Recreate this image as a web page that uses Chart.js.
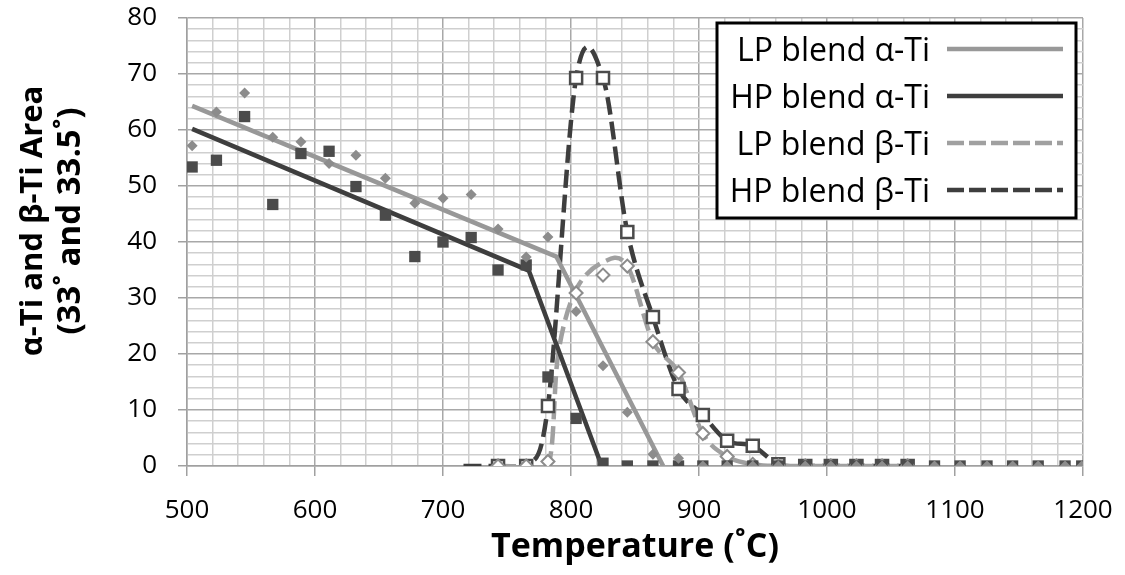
<!DOCTYPE html>
<html><head><meta charset="utf-8">
<script src="https://cdn.jsdelivr.net/npm/chart.js@4.4.1/dist/chart.umd.min.js"></script>
<style>html,body{margin:0;padding:0;background:#fff}</style>
</head><body>
<canvas id="c" width="1125" height="575"></canvas>
<script>
// ---- data ----
const temps = [504, 523, 545, 567, 589, 611, 632, 655, 678, 700, 722, 743, 765, 782, 804, 825, 844, 864, 884, 903, 922, 942, 962, 983, 1003, 1023, 1043, 1063, 1084, 1104, 1125, 1145, 1165, 1186, 1199];
const lpAlpha = [57.2, 63.2, 66.6, 58.7, 57.9, 54.0, 55.5, 51.4, 46.9, 47.8, 48.5, 42.3, 37.3, 40.9, 27.6, 17.9, 9.6, 2.1, 1.4, 0, 0, 0, 0, 0, 0, 0, 0, 0, 0, 0, 0, 0, 0, 0, 0];
const hpAlpha = [53.4, 54.6, 62.4, 46.7, 55.8, 56.2, 49.9, 44.8, 37.4, 40.0, 40.8, 35.0, 35.9, 15.9, 8.5, 0.5, 0, 0, 0, 0, 0, 0, 0, 0, 0, 0, 0, 0, 0, 0, 0, 0, 0, 0, 0];
const betaTemps = [743, 765, 782, 804, 825, 844, 864, 884, 903, 922, 942, 962, 983, 1003, 1023, 1043, 1063];
const lpBeta = [0, 0, 0.8, 30.9, 34.1, 35.7, 22.2, 16.7, 5.8, 1.7, 0.3, 0, 0, 0, 0, 0, 0];
const hpBeta = [0, 0, 10.7, 69.3, 69.3, 41.8, 26.6, 13.75, 9.1, 4.5, 3.6, 0.3, 0, 0, 0, 0, 0];
// smoothed beta curves
const lpBetaCurveT = [743, 765, 783, 790, 804, 825, 844, 864, 884, 903, 922, 942, 962, 983, 1003, 1023, 1043, 1063];
const lpBetaCurveV = [0, 0, 0.8, 20, 31.5, 36.4, 35.7, 22.2, 16.7, 5.8, 1.7, 0.3, 0, 0, 0, 0, 0, 0];
const hpBetaCurveT = [716, 743, 765, 782, 804, 825, 844, 864, 884, 903, 922, 942, 962, 983, 1003, 1023, 1043, 1063];
const hpBetaCurveV = [0, 0, 0, 10.7, 69.3, 69.3, 41.8, 26.6, 13.75, 9.1, 4.5, 3.6, 0.3, 0, 0, 0, 0, 0];
// straight fit lines for alpha
const lpAlphaFitT = [504, 788.5, 872];
const lpAlphaFitV = [64.3, 37.4, 0];
const hpAlphaFitT = [504, 767, 824];
const hpAlphaFitV = [60.2, 34.9, 0];
const xTicksMajor = [500, 600, 700, 800, 900, 1000, 1100, 1200];
const yTicksMajor = [0, 10, 20, 30, 40, 50, 60, 70, 80];
const xTitle = 'Temperature (˚C)';
const yTitle = ['α-Ti and β-Ti Area', '(33˚ and 33.5˚)'];

// ---- styles ----
const LP_LINE = '#989898', LP_MARK = '#8c8c8c', HP_LINE = '#3e3e3e', HP_MARK = '#4b4b4b';
const GRID_MINOR = '#cfcfcf', GRID_MAJOR = '#a8a8a8';
const DASH = [18, 7];
const pts = (xs, ys) => xs.map((x, i) => ({x, y: ys[i]}));

const excelSmooth = {
  id: 'excelSmooth',
  beforeDatasetDraw(chart, args) {
    const ds = chart.data.datasets[args.index];
    if (!ds.smooth) return;
    const p = args.meta.data, n = p.length;
    for (let i = 0; i < n; i++) {
      const c = p[i], a = p[i > 0 ? i - 1 : i], b = p[i < n - 1 ? i + 1 : i];
      const dx = (b.x - a.x) / 6, dy = (b.y - a.y) / 6;
      c.cp1x = c.x - dx; c.cp1y = c.y - dy;
      c.cp2x = c.x + dx; c.cp2y = c.y + dy;
    }
    args.meta.dataset._pointsUpdated = true;
  }
};

const yTitlePlugin = {
  id: 'yTitlePlugin',
  afterDraw(chart) {
    const ctx = chart.ctx;
    ctx.save();
    ctx.fillStyle = '#000';
    ctx.textAlign = 'center';
    ctx.textBaseline = 'alphabetic';
    ctx.translate(42, 221);
    ctx.rotate(-Math.PI / 2);
    ctx.font = 'bold 31px "Open Sans"';
    ctx.fillText(yTitle[0], 0, 0);
    ctx.font = 'bold 33px "Open Sans"';
    ctx.fillText(yTitle[1], 0, 38);
    ctx.restore();
  }
};

const legendPlugin = {
  id: 'legendPlugin',
  afterDraw(chart) {
    const ctx = chart.ctx;
    const items = chart.data.datasets.filter(d => d.inLegend);
    ctx.save();
    ctx.fillStyle = '#fff';
    ctx.fillRect(717, 23, 359, 195);
    ctx.lineWidth = 3;
    ctx.strokeStyle = '#000';
    ctx.strokeRect(717, 23, 359, 195);
    ctx.font = '32px "Open Sans"';
    ctx.textAlign = 'right';
    ctx.textBaseline = 'alphabetic';
    items.forEach((d, i) => {
      const base = 61 + i * 47;
      ctx.fillStyle = '#000';
      ctx.fillText(d.label, 930, base);
      ctx.beginPath();
      ctx.setLineDash(d.borderDash ? [17, 5] : []);
      ctx.lineWidth = d.borderWidth;
      ctx.strokeStyle = d.borderColor;
      ctx.moveTo(947, base - 12);
      ctx.lineTo(1063, base - 12);
      ctx.stroke();
    });
    ctx.restore();
  }
};

Chart.defaults.font.family = "'Open Sans'";
Chart.defaults.color = '#000';

new Chart(document.getElementById('c'), {
  type: 'scatter',
  data: {
    datasets: [
      {label: 'LP α markers', data: pts(temps, lpAlpha), showLine: false, pointStyle: 'rectRot', pointRadius: 5.5, backgroundColor: LP_MARK, borderWidth: 0, order: 0},
      {label: 'HP α markers', data: pts(temps, hpAlpha), showLine: false, pointStyle: 'rect', pointRadius: 8, backgroundColor: HP_MARK, borderWidth: 0, order: 1},
      {label: 'LP β markers', data: pts(betaTemps, lpBeta), showLine: false, pointStyle: 'rectRot', pointRadius: 6.5, backgroundColor: '#fff', borderColor: LP_MARK, borderWidth: 2, order: 2},
      {label: 'HP β markers', data: pts(betaTemps, hpBeta), showLine: false, pointStyle: 'rect', pointRadius: 8.5, backgroundColor: '#fff', borderColor: HP_MARK, borderWidth: 2.5, order: 3},
      {label: 'LP blend α-Ti', inLegend: true, data: pts(lpAlphaFitT, lpAlphaFitV), showLine: true, pointRadius: 0, borderColor: LP_LINE, borderWidth: 4.5, tension: 0, order: 4},
      {label: 'HP blend α-Ti', inLegend: true, data: pts(hpAlphaFitT, hpAlphaFitV), showLine: true, pointRadius: 0, borderColor: HP_LINE, borderWidth: 4.5, tension: 0, order: 5},
      {label: 'LP blend β-Ti', inLegend: true, smooth: true, data: pts(lpBetaCurveT, lpBetaCurveV), showLine: true, pointRadius: 0, borderColor: '#a0a0a0', borderWidth: 4.5, borderDash: DASH, tension: 0.4, order: 6},
      {label: 'HP blend β-Ti', inLegend: true, smooth: true, data: pts(hpBetaCurveT, hpBetaCurveV), showLine: true, pointRadius: 0, borderColor: HP_LINE, borderWidth: 4.5, borderDash: DASH, tension: 0.4, order: 7}
    ]
  },
  options: {
    responsive: false,
    animation: false,
    layout: {padding: {left: 0, right: 42, top: 18, bottom: 0}},
    plugins: {legend: {display: false}, tooltip: {enabled: false}},
    scales: {
      x: {
        type: 'linear', min: 500, max: 1200,
        afterFit: s => { s.height = 109; s.paddingLeft = 0; s.paddingRight = 0; },
        ticks: {stepSize: 20, autoSkip: false, maxRotation: 0, padding: 19, font: {size: 26},
          callback: v => xTicksMajor.includes(v) ? String(v) : ''},
        grid: {lineWidth: 1.5, tickLength: 10, tickWidth: 1.5,
          color: c => (c.tick && c.tick.value % 100 === 0) ? GRID_MAJOR : GRID_MINOR,
          tickColor: c => (c.tick && c.tick.value % 100 === 0) ? '#a0a0a0' : 'rgba(0,0,0,0)'},
        border: {color: '#a0a0a0', width: 1.5},
        title: {display: true, text: xTitle, font: {size: 34, weight: 'bold'}, padding: {top: 0, bottom: 7}}
      },
      y: {
        min: 0, max: 80,
        afterFit: s => { s.width = 187; s.paddingTop = 0; s.paddingBottom = 0; },
        ticks: {stepSize: 2, autoSkip: false, padding: 21, font: {size: 26},
          callback: v => yTicksMajor.includes(v) ? String(v) : ''},
        grid: {lineWidth: 1.5, tickLength: 9, tickWidth: 1.5,
          color: c => (c.tick && c.tick.value % 10 === 0) ? GRID_MAJOR : GRID_MINOR,
          tickColor: c => (c.tick && c.tick.value % 10 === 0) ? '#a0a0a0' : 'rgba(0,0,0,0)'},
        border: {color: '#a0a0a0', width: 1.5}
      }
    }
  },
  plugins: [excelSmooth, yTitlePlugin, legendPlugin]
});
</script>
</body></html>
